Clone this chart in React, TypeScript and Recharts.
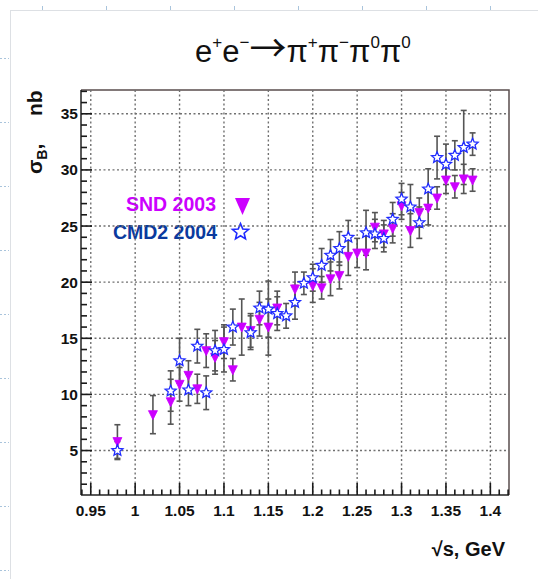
import React from 'react';
import {
  ScatterChart,
  Scatter,
  XAxis,
  YAxis,
  ErrorBar,
  CartesianGrid,
} from 'recharts';

// SND 2003
const SND_X = [0.98, 1.02, 1.04, 1.05, 1.06, 1.07, 1.08, 1.09, 1.1, 1.11, 1.12, 1.13, 1.14, 1.15, 1.16, 1.18, 1.2, 1.21, 1.22, 1.23, 1.24, 1.25, 1.26, 1.27, 1.28, 1.29, 1.3, 1.31, 1.32, 1.33, 1.34, 1.35, 1.36, 1.37, 1.38];
const SND_Y = [5.8, 8.2, 9.35, 10.9, 11.7, 10.5, 13.9, 13.3, 14.7, 12.2, 16.0, 15.7, 16.7, 16.0, 17.7, 19.4, 19.7, 19.5, 20.3, 20.6, 22.3, 22.6, 22.6, 24.9, 24.3, 24.8, 26.8, 24.6, 26.2, 26.6, 27.5, 29.1, 28.5, 29.2, 29.1];
const SND_ERR = [1.5, 1.7, 2.0, 1.5, 1.3, 1.3, 1.5, 1.5, 1.5, 1.0, 2.5, 1.5, 1.5, 2.5, 1.5, 1.5, 1.5, 1.0, 1.5, 1.2, 1.7, 1.3, 1.5, 1.3, 1.2, 1.3, 1.2, 1.5, 1.3, 1.5, 1.0, 1.2, 1.0, 1.3, 1.0];

// CMD2 2004
const CMD2_X = [0.98, 1.04, 1.05, 1.06, 1.07, 1.08, 1.09, 1.1, 1.11, 1.13, 1.14, 1.15, 1.16, 1.17, 1.18, 1.19, 1.2, 1.21, 1.22, 1.23, 1.24, 1.26, 1.27, 1.28, 1.29, 1.3, 1.31, 1.32, 1.33, 1.34, 1.35, 1.36, 1.37, 1.38];
const CMD2_Y = [5.0, 10.3, 13.0, 10.4, 14.3, 10.15, 13.9, 14.0, 16.0, 15.5, 17.7, 17.6, 17.2, 17.0, 18.2, 19.9, 20.4, 21.5, 22.4, 23.0, 24.0, 24.4, 24.3, 23.9, 25.6, 27.4, 26.7, 25.3, 28.3, 31.1, 30.5, 31.3, 32.0, 32.3];
const CMD2_ERR = [0.8, 1.8, 2.0, 1.4, 1.5, 1.5, 1.8, 2.0, 1.6, 1.5, 1.5, 2.5, 1.5, 1.1, 1.5, 1.0, 1.2, 1.5, 1.4, 1.5, 1.5, 2.0, 1.3, 1.2, 1.5, 1.4, 2.0, 1.4, 1.8, 1.9, 1.8, 1.3, 3.3, 1.0];

const X_LABELS = ['0.95', '1', '1.05', '1.1', '1.15', '1.2', '1.25', '1.3', '1.35', '1.4'];
const Y_LABELS = ['5', '10', '15', '20', '25', '30', '35'];

const X_DOMAIN: [number, number] = [0.939, 1.421];
const Y_DOMAIN: [number, number] = [1.04, 37.12];

const W = 538;
const H = 579;
const PLOT_LEFT = 81;
const PLOT_RIGHT = 509;
const PLOT_TOP = 90;
const PLOT_BOTTOM = 495;

const SND_COLOR = '#cc00ff';
const CMD2_COLOR = '#1f2bff';
const GRID = '#707070';
const TICK = '#1a1a1a';
const FONT = '"Liberation Sans", Arial, Helvetica, sans-serif';

const sndData = SND_X.map((x, i) => ({ x, y: SND_Y[i], err: SND_ERR[i] }));
const cmd2Data = CMD2_X.map((x, i) => ({ x, y: CMD2_Y[i], err: CMD2_ERR[i] }));

const xMajor = X_LABELS.map(Number);
const yMajor = Y_LABELS.map(Number);

// minor ticks every 0.01 / 1 unit
const xTicks: number[] = [];
for (let i = 94; i <= 142; i++) xTicks.push(+(i / 100).toFixed(2));
const yTicks: number[] = [];
for (let i = 2; i <= 37; i++) yTicks.push(i);

const majorIndex = (arr: number[], v: number) => arr.findIndex((m) => Math.abs(m - v) < 1e-6);

// inward ROOT-style ticks + bold labels
const XTick = (props: any) => {
  const { x, payload } = props;
  const idx = majorIndex(xMajor, payload.value);
  const major = idx >= 0;
  return (
    <g>
      <line x1={x} x2={x} y1={PLOT_BOTTOM} y2={PLOT_BOTTOM - (major ? 12 : 5.5)} stroke={TICK} strokeWidth={1.6} />
      {major && (
        <text x={x} y={PLOT_BOTTOM + 21} textAnchor="middle" fontFamily={FONT} fontWeight="bold" fontSize={15.5} fill="#111">
          {X_LABELS[idx]}
        </text>
      )}
    </g>
  );
};

const YTick = (props: any) => {
  const { y, payload } = props;
  const idx = majorIndex(yMajor, payload.value);
  const major = idx >= 0;
  return (
    <g>
      <line x1={PLOT_LEFT} x2={PLOT_LEFT + (major ? 11 : 6)} y1={y} y2={y} stroke={TICK} strokeWidth={1.6} />
      {major && (
        <text x={PLOT_LEFT - 3} y={y + 5.5} textAnchor="end" fontFamily={FONT} fontWeight="bold" fontSize={15.5} fill="#111">
          {Y_LABELS[idx]}
        </text>
      )}
    </g>
  );
};

const Triangle = (props: any) => {
  const { cx, cy } = props;
  if (cx == null || cy == null) return null;
  const s = 4.5;
  return (
    <polygon
      points={`${cx - s},${cy - 4} ${cx + s},${cy - 4} ${cx},${cy + 5}`}
      fill={SND_COLOR}
      stroke={SND_COLOR}
      strokeWidth={0.8}
    />
  );
};

const starPoints = (cx: number, cy: number, ro: number, ri: number) => {
  const pts: string[] = [];
  for (let k = 0; k < 10; k++) {
    const r = k % 2 === 0 ? ro : ri;
    const a = -Math.PI / 2 + (k * Math.PI) / 5;
    pts.push(`${cx + r * Math.cos(a)},${cy + r * Math.sin(a)}`);
  }
  return pts.join(' ');
};

const Star = (props: any) => {
  const { cx, cy } = props;
  if (cx == null || cy == null) return null;
  return <polygon points={starPoints(cx, cy, 5.8, 2.6)} fill="#fff" stroke={CMD2_COLOR} strokeWidth={1.3} />;
};

const rulerTop = [42, 106, 170, 234, 298, 362, 426, 490];
const rulerLeft = [58, 122, 186, 250, 314, 378, 442, 506, 570];

// titles, legend and page decoration (sits underneath the chart svg)
const Decor = () => (
  <svg width={W} height={H} style={{ position: 'absolute', left: 0, top: 0 }}>
    <line x1={10.5} x2={10.5} y1={10} y2={H} stroke="#dde0e4" strokeWidth={1} />
    <line x1={10} x2={W} y1={10.5} y2={10.5} stroke="#dde0e4" strokeWidth={1} />
    {rulerTop.map((x) => (
      <line key={`rt-${x}`} x1={x + 0.5} x2={x + 0.5} y1={6} y2={10} stroke="#a9c4dc" strokeWidth={1} />
    ))}
    {rulerLeft.map((y) => (
      <line key={`rl-${y}`} x1={0} x2={9} y1={y + 0.5} y2={y + 0.5} stroke="#a9c4dc" strokeWidth={1} strokeDasharray="2 2" />
    ))}

    {/* top and right sides of the frame */}
    <polyline
      points={`${PLOT_LEFT},${PLOT_TOP} ${PLOT_RIGHT},${PLOT_TOP} ${PLOT_RIGHT},${PLOT_BOTTOM}`}
      fill="none"
      stroke="#5a4e4e"
      strokeWidth={1.5}
    />

    {/* title */}
    <text x={195} y={62} fontFamily={FONT} fontSize={31} fill="#111">
      e<tspan dy={-14} fontSize={17}>+</tspan>
      <tspan dy={14} fontSize={31}>e</tspan>
      <tspan dy={-14} fontSize={17}>−</tspan>
      <tspan dy={14} fontSize={37} fontFamily='"Noto Sans CJK JP", "DejaVu Sans", sans-serif'>→</tspan>
      <tspan fontSize={31}>π</tspan>
      <tspan dy={-14} fontSize={17}>+</tspan>
      <tspan dy={14} fontSize={31}>π</tspan>
      <tspan dy={-14} fontSize={17}>−</tspan>
      <tspan dy={14} fontSize={31}>π</tspan>
      <tspan dy={-14} fontSize={17}>0</tspan>
      <tspan dy={14} fontSize={31}>π</tspan>
      <tspan dy={-14} fontSize={17}>0</tspan>
    </text>

    {/* y axis title */}
    <g transform="translate(42,174) rotate(-90)">
      <text x={0} y={0} fontFamily={FONT} fontSize={21} fontWeight="bold" fill="#111">
        σ<tspan dy={5} fontSize={14}>B</tspan>
        <tspan dy={-5}>,</tspan>
      </text>
      <text x={58} y={0} fontFamily={FONT} fontSize={21} fontWeight="bold" fill="#111">
        nb
      </text>
    </g>

    {/* x axis title */}
    <text x={505} y={556} textAnchor="end" fontFamily={FONT} fontSize={20} fontWeight="bold" fill="#111">
      √s, GeV
    </text>

    {/* legend */}
    <text x={216} y={211} textAnchor="end" fontFamily={FONT} fontSize={19.5} fontWeight="bold" fill={SND_COLOR}>
      SND 2003
    </text>
    <polygon points="235,198 250,198 242.5,215" fill={SND_COLOR} />
    <text x={217} y={239} textAnchor="end" fontFamily={FONT} fontSize={19.5} fontWeight="bold" fill="#0a3a9e">
      CMD2 2004
    </text>
    <polygon points={starPoints(240.5, 232, 8.5, 3.8)} fill="#fff" stroke={CMD2_COLOR} strokeWidth={1.6} />
  </svg>
);

export default function App() {
  return (
    <div style={{ position: 'fixed', left: 0, top: 0, width: W, height: H, background: '#fff' }}>
      <Decor />
      <div style={{ position: 'absolute', left: 0, top: 0 }}>
        <ScatterChart width={W} height={H} margin={{ top: PLOT_TOP, right: W - PLOT_RIGHT, bottom: 0, left: 0 }}>
          <CartesianGrid
            verticalValues={xMajor}
            horizontalValues={yMajor}
            stroke={GRID}
            strokeWidth={1.4}
            strokeDasharray="2 2.5"
            fill="none"
          />
          <XAxis
            type="number"
            dataKey="x"
            domain={X_DOMAIN}
            ticks={xTicks}
            interval={0}
            tickLine={false}
            tick={<XTick />}
            height={H - PLOT_BOTTOM}
            allowDataOverflow
            axisLine={{ stroke: '#222', strokeWidth: 1.5 }}
          />
          <YAxis
            type="number"
            dataKey="y"
            domain={Y_DOMAIN}
            ticks={yTicks}
            interval={0}
            tickLine={false}
            tick={<YTick />}
            width={PLOT_LEFT}
            allowDataOverflow
            axisLine={{ stroke: '#222', strokeWidth: 1.5 }}
          />
          <Scatter name="SND 2003" data={sndData} shape={<Triangle />} isAnimationActive={false}>
            <ErrorBar dataKey="err" direction="y" width={3} stroke="#555" strokeWidth={1.6} />
          </Scatter>
          <Scatter name="CMD2 2004" data={cmd2Data} shape={<Star />} isAnimationActive={false}>
            <ErrorBar dataKey="err" direction="y" width={3} stroke="#555" strokeWidth={1.6} />
          </Scatter>
        </ScatterChart>
      </div>
    </div>
  );
}
